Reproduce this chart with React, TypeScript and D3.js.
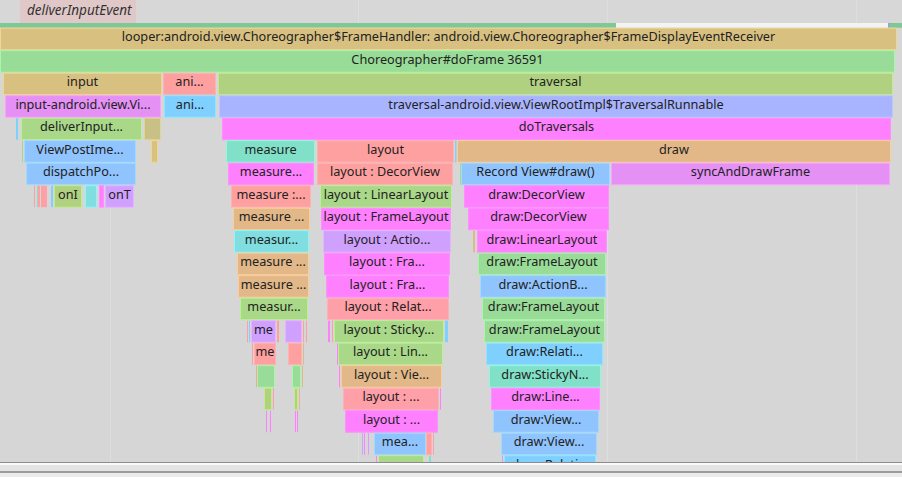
import React from "react";
import * as d3 from "d3";

// frames: [depth, start ms, end ms, label, colour key]
type Frame = [number, number, number, string, string];

const rootFrames: Frame[] = [
  [0, 0, 17.94, "looper:android.view.Choreographer$FrameHandler: android.view.Choreographer$FrameDisplayEventReceiver", "tan"],
  [1, 0, 17.9, "Choreographer#doFrame 36591", "green"],
];

const inputFrames: Frame[] = [
  [2, 0.06, 3.24, "input", "tan"],
  [3, 0.1, 3.22, "input-android.view.Vi...", "violet"],
  [4, 0.32, 0.36, "", "sky"],
  [4, 0.42, 2.84, "deliverInput...", "lime"],
  [4, 2.88, 3.22, "", "khaki"],
  [5, 0.44, 0.46, "", "lime"],
  [5, 0.48, 2.72, "ViewPostIme...", "blue"],
  [5, 3.02, 3.16, "", "tan"],
  [6, 0.52, 2.72, "dispatchPo...", "blue"],
  [7, 0.68, 0.7, "", "salmon"],
  [7, 0.74, 0.76, "", "teal"],
  [7, 0.76, 0.8, "", "rose"],
  [7, 0.82, 0.88, "", "salmon"],
  [7, 0.88, 0.94, "", "rose"],
  [7, 1.02, 1.06, "", "sky"],
  [7, 1.08, 1.64, "onI", "olive"],
  [7, 1.7, 1.94, "", "cyan"],
  [7, 1.98, 2.08, "", "magenta"],
  [7, 2.1, 2.68, "onT", "lavender"],
];

const animFrames: Frame[] = [
  [2, 3.26, 4.32, "ani...", "salmon"],
  [3, 3.28, 4.32, "ani...", "sky"],
];

const traversalFrames: Frame[] = [
  [2, 4.36, 17.86, "traversal", "olive"],
  [3, 4.38, 17.86, "traversal-android.view.ViewRootImpl$TraversalRunnable", "periwinkle"],
  [4, 4.44, 17.82, "doTraversals", "magenta"],
];

const measureFrames: Frame[] = [
  [5, 4.52, 6.3, "measure", "teal"],
  [6, 4.56, 6.28, "measure...", "magenta"],
  [7, 4.62, 6.22, "measure :...", "salmon"],
  [8, 4.66, 6.2, "measure ...", "tan2"],
  [9, 4.68, 6.18, "measur...", "cyan"],
  [10, 4.74, 6.18, "measure ...", "tan2"],
  [11, 4.76, 6.18, "measure ...", "tan2"],
  [12, 4.8, 6.16, "measur...", "lime"],
  [13, 4.94, 4.96, "", "salmon"],
  [13, 4.98, 5.0, "", "sky"],
  [13, 5.02, 5.52, "me", "lavender"],
  [13, 5.54, 5.58, "", "salmon"],
  [13, 5.7, 6.04, "", "lavender"],
  [13, 6.06, 6.08, "", "salmon"],
  [13, 6.12, 6.14, "", "salmon"],
  [14, 5.04, 5.06, "", "salmon"],
  [14, 5.08, 5.52, "me", "salmon"],
  [14, 5.76, 6.04, "", "salmon"],
  [14, 6.06, 6.08, "", "tan2"],
  [15, 5.12, 5.14, "", "salmon"],
  [15, 5.14, 5.5, "", "green"],
  [15, 5.84, 6.02, "", "green"],
  [15, 6.04, 6.06, "", "tan2"],
  [16, 5.28, 5.44, "", "olive"],
  [16, 5.46, 5.48, "", "salmon"],
  [16, 5.88, 5.96, "", "olive"],
  [16, 5.98, 6.0, "", "tan2"],
  [17, 5.32, 5.34, "", "magenta"],
  [17, 5.4, 5.42, "", "magenta"],
  [17, 5.9, 5.92, "", "magenta"],
  [17, 5.94, 5.96, "", "magenta"],
];

const layoutFrames: Frame[] = [
  [5, 6.34, 9.08, "layout", "salmon"],
  [6, 6.34, 9.06, "layout : DecorView", "salmon"],
  [7, 6.4, 9.04, "layout : LinearLayout", "lime"],
  [8, 6.42, 9.02, "layout : FrameLayout", "magenta"],
  [9, 6.46, 9.02, "layout : Actio...", "lavender"],
  [10, 6.48, 9.0, "layout : Fra...", "magenta"],
  [11, 6.52, 8.98, "layout : Fra...", "magenta"],
  [12, 6.54, 8.98, "layout : Relat...", "rose"],
  [13, 6.56, 6.6, "", "magenta"],
  [13, 6.64, 6.66, "", "rose"],
  [13, 6.68, 8.88, "layout : Sticky...", "lime"],
  [13, 8.9, 8.96, "", "sky"],
  [14, 6.74, 6.76, "", "magenta"],
  [14, 6.76, 8.86, "layout : Lin...", "lime"],
  [15, 6.78, 6.8, "", "magenta"],
  [15, 6.82, 8.84, "layout : Vie...", "tan2"],
  [16, 6.86, 8.78, "layout : ...", "rose"],
  [16, 8.8, 8.82, "", "magenta"],
  [17, 6.9, 8.76, "layout : ...", "magenta"],
  [18, 7.24, 7.26, "", "lavender"],
  [18, 7.28, 7.3, "", "magenta"],
  [18, 7.36, 7.38, "", "lavender"],
  [18, 7.48, 8.52, "mea...", "blue"],
  [18, 8.52, 8.64, "", "salmon"],
  [18, 8.66, 8.68, "", "rose"],
  [19, 7.52, 7.54, "", "magenta"],
  [19, 7.56, 8.48, "...", "lime"],
  [19, 8.58, 8.62, "", "teal"],
];

const drawFrames: Frame[] = [
  [5, 9.1, 9.13, "", "sky"],
  [5, 9.14, 17.82, "draw", "tan2"],
  [6, 9.2, 9.22, "", "lime"],
  [6, 9.22, 12.2, "Record View#draw()", "blue"],
  [6, 12.22, 17.8, "syncAndDrawFrame", "violet"],
  [7, 9.28, 12.18, "draw:DecorView", "magenta"],
  [8, 9.36, 12.18, "draw:DecorView", "magenta"],
  [9, 9.46, 9.5, "", "tan2"],
  [9, 9.54, 12.14, "draw:LinearLayout", "magenta"],
  [10, 9.56, 12.12, "draw:FrameLayout", "green"],
  [11, 9.6, 12.12, "draw:ActionB...", "blue"],
  [12, 9.64, 12.1, "draw:FrameLayout", "green"],
  [13, 9.68, 12.1, "draw:FrameLayout", "green"],
  [14, 9.72, 12.06, "draw:Relati...", "sky"],
  [15, 9.78, 12.02, "draw:StickyN...", "teal"],
  [16, 9.82, 12.0, "draw:Line...", "magenta"],
  [17, 9.86, 11.98, "draw:View...", "blue"],
  [18, 10.02, 11.94, "draw:View...", "blue"],
  [19, 10.04, 10.06, "", "lavender"],
  [19, 10.08, 11.92, "draw:Relati...", "sky"],
];

// marker track above the chart
const markers = [{ start: 0.4, end: 2.72, label: "deliverInputEvent" }];
// thin state strip: [start, end, colour key]
const strip: [number, number, string][] = [
  [0, 12.32, "stripGreen"],
  [12.32, 17.76, "stripIdle"],
  [17.76, 17.8, "stripBlue"],
  [17.8, 18.04, "stripGreen"],
];
const gridTicks = [2.2, 7.16, 12.14, 17.12];

const palette: Record<string, string> = {
  tan: "#d8c080",
  tan2: "#e2b888",
  green: "#98dc98",
  olive: "#b0d280",
  lime: "#a8d888",
  khaki: "#c8c084",
  salmon: "#ffa0a0",
  rose: "#ff9fa8",
  violet: "#e490f4",
  lavender: "#d0a0ff",
  magenta: "#ff80ff",
  sky: "#80d0ff",
  blue: "#90c4ff",
  periwinkle: "#a8b4ff",
  teal: "#80e0c8",
  cyan: "#80dde0",
  stripGreen: "#7dc895",
  stripIdle: "#f3f3f3",
  stripBlue: "#8fa8d0",
};

const W = 902;
const H = 477;
const chartBottom = 462;

export default function App() {
  const x = d3.scaleLinear().domain([0, 18.04]).range([0, W]);
  const y = d3.scaleLinear().domain([0, 1]).range([27.7, 50.2]);
  const rowH = y(1) - y(0);
  const frames = [
    ...rootFrames,
    ...inputFrames,
    ...animFrames,
    ...traversalFrames,
    ...measureFrames,
    ...layoutFrames,
    ...drawFrames,
  ];

  return (
    <svg
      width={W}
      height={H}
      style={{ position: "fixed", left: 0, top: 0, display: "block" }}
      fontFamily="'Noto Sans', sans-serif"
    >
      <defs>
        <clipPath id="flame">
          <rect x={0} y={0} width={W} height={chartBottom} />
        </clipPath>
      </defs>
      <rect width={W} height={H} fill="#d6d6d6" />
      <rect width={W} height={23} fill="#d7d7d7" />

      {gridTicks.map((t) => (
        <line
          key={t}
          x1={Math.round(x(t)) + 0.5}
          x2={Math.round(x(t)) + 0.5}
          y1={0}
          y2={chartBottom}
          stroke="#dedede"
        />
      ))}

      {markers.map((m) => (
        <g key={m.label}>
          <rect
            x={x(m.start)}
            y={0}
            width={x(m.end) - x(m.start)}
            height={23}
            fill="#e2c6c6"
            opacity={0.9}
          />
          <text
            x={x(m.start) + 7}
            y={10}
            dominantBaseline="central"
            fontStyle="italic"
            fontSize={13.5}
            fill="#333"
          >
            {m.label}
          </text>
        </g>
      ))}

      {strip.map(([s, e, c], i) => (
        <rect key={i} x={x(s)} y={23} width={x(e) - x(s)} height={4.7} fill={palette[c]} />
      ))}

      <g clipPath="url(#flame)">
        {frames.map(([depth, s, e, label, c], i) => {
          const x0 = x(s);
          const w = Math.max(1, x(e) - x0);
          const top = y(depth);
          const fill = palette[c];
          const wide = w > 3;
          return (
            <g key={i}>
              <rect
                x={wide ? x0 + 0.5 : x0}
                y={top + 0.5}
                width={wide ? w - 1 : w}
                height={rowH - 1}
                fill={fill}
                stroke={wide ? d3.color(fill)!.brighter(0.3).toString() : "none"}
                strokeWidth={1}
              />
              {label && (
                <text
                  x={x0 + w / 2}
                  y={top + rowH / 2 - 2.6}
                  textAnchor="middle"
                  dominantBaseline="central"
                  fontSize={12.7}
                  fill="#222"
                >
                  {label}
                </text>
              )}
            </g>
          );
        })}
      </g>

      <rect x={0} y={chartBottom} width={W} height={1} fill="#8c8c8c" />
      <rect x={0} y={chartBottom + 1} width={W} height={2} fill="#fafafa" />
      <rect x={0} y={chartBottom + 3} width={W} height={6} fill="#e3e3e3" />
      <rect x={0} y={chartBottom + 9} width={W} height={2} fill="#9c9c9c" />
      <rect x={0} y={chartBottom + 11} width={W} height={H - chartBottom - 11} fill="#ebebeb" />
    </svg>
  );
}
